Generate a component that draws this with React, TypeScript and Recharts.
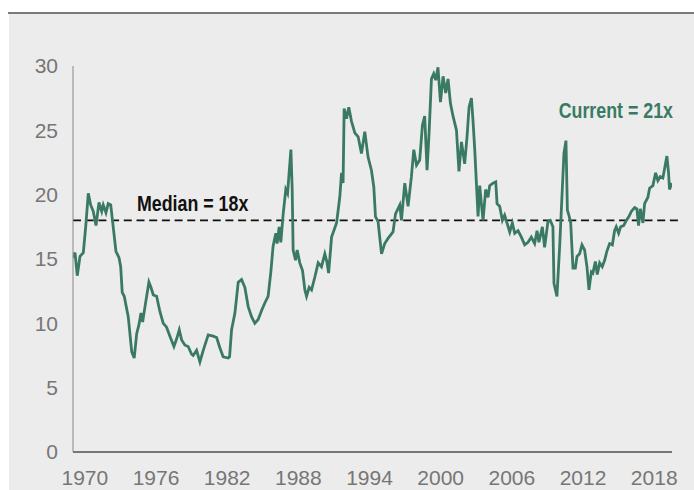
import React from 'react';
import {
  LineChart,
  Line,
  XAxis,
  YAxis,
  ReferenceLine,
  ReferenceDot
} from 'recharts';

const years = [
  1969.0, 1969.17, 1969.36, 1969.59, 1969.87, 1970.07, 1970.29, 1970.49, 1970.71, 1970.94,
  1971.19, 1971.42, 1971.55, 1971.78, 1971.97, 1972.18, 1972.34, 1972.62, 1972.88, 1973.02,
  1973.15, 1973.32, 1973.66, 1973.95, 1974.16, 1974.37, 1974.56, 1974.73, 1974.87, 1975.07,
  1975.4, 1975.57, 1975.77, 1976.05, 1976.33, 1976.61, 1976.89, 1977.17, 1977.51, 1977.74,
  1977.96, 1978.16, 1978.44, 1978.71, 1979.0, 1979.13, 1979.42, 1979.7, 1979.98, 1980.4,
  1980.82, 1981.11, 1981.38, 1981.66, 1982.08, 1982.2, 1982.37, 1982.65, 1982.93, 1983.21,
  1983.49, 1983.77, 1984.06, 1984.33, 1984.61, 1984.9, 1985.18, 1985.45, 1985.68, 1985.87,
  1986.1, 1986.21, 1986.38, 1986.52, 1986.72, 1986.94, 1987.09, 1987.22, 1987.37, 1987.48,
  1987.56, 1987.76, 1987.9, 1988.12, 1988.35, 1988.55, 1988.69, 1988.91, 1989.11, 1989.39,
  1989.67, 1989.95, 1990.23, 1990.4, 1990.55, 1990.8, 1991.22, 1991.49, 1991.64, 1991.77,
  1991.86, 1992.06, 1992.25, 1992.48, 1992.76, 1993.04, 1993.32, 1993.6, 1993.88, 1994.16,
  1994.36, 1994.5, 1994.72, 1995.01, 1995.28, 1995.56, 1995.98, 1996.19, 1996.55, 1996.69,
  1996.97, 1997.25, 1997.53, 1997.73, 1997.96, 1998.23, 1998.46, 1998.65, 1998.85, 1999.02,
  1999.22, 1999.41, 1999.58, 1999.77, 1999.98, 2000.2, 2000.42, 2000.62, 2000.82, 2001.04,
  2001.33, 2001.54, 2001.75, 2002.02, 2002.22, 2002.39, 2002.59, 2002.72, 2002.87, 2003.01,
  2003.15, 2003.29, 2003.43, 2003.57, 2003.79, 2003.99, 2004.13, 2004.41, 2004.64, 2004.75,
  2004.97, 2005.2, 2005.39, 2005.59, 2005.82, 2006.04, 2006.24, 2006.52, 2006.8, 2007.08,
  2007.36, 2007.64, 2007.92, 2008.12, 2008.28, 2008.57, 2008.76, 2009.04, 2009.24, 2009.46,
  2009.55, 2009.8, 2010.03, 2010.26, 2010.39, 2010.56, 2010.68, 2010.81, 2010.96, 2011.15,
  2011.35, 2011.49, 2011.71, 2011.91, 2012.13, 2012.33, 2012.5, 2012.7, 2012.83, 2013.04,
  2013.2, 2013.4, 2013.62, 2013.82, 2014.01, 2014.24, 2014.47, 2014.66, 2014.8, 2015.0,
  2015.17, 2015.42, 2015.65, 2015.87, 2016.07, 2016.35, 2016.54, 2016.68, 2016.83, 2017.05,
  2017.19, 2017.47, 2017.61, 2017.89, 2018.12, 2018.31, 2018.51, 2018.73, 2018.87, 2019.07,
  2019.21, 2019.29, 2019.49
];

// forward P/E
const pe = [
  15.1, 15.5, 13.7, 15.2, 15.5, 17.5, 20.1, 19.2, 18.7, 17.6,
  19.4, 18.7, 19.2, 18.6, 19.3, 19.2, 17.9, 15.6, 15.1, 14.4,
  12.4, 12.1, 10.5, 7.8, 7.3, 9.2, 9.9, 10.8, 10.1, 11.3,
  13.2, 12.8, 12.2, 12.1, 10.9, 10.0, 9.7, 9.0, 8.2, 8.8,
  9.5, 8.7, 8.3, 8.2, 7.6, 7.5, 7.9, 7.0, 7.9, 9.1,
  9.0, 8.9, 8.1, 7.4, 7.3, 7.4, 9.5, 10.8, 13.2, 13.4,
  12.8, 11.3, 10.5, 10.0, 10.3, 11.0, 11.6, 12.1, 14.0, 16.0,
  17.0, 16.2, 17.5, 16.3, 18.5, 20.4, 20.1, 21.7, 23.5, 20.4,
  15.7, 14.9, 15.7, 14.7, 14.1, 12.6, 12.1, 12.8, 12.6, 13.6,
  14.7, 14.4, 15.4, 14.8, 13.9, 16.7, 17.8, 19.8, 21.7, 20.9,
  26.7, 25.9, 26.8, 25.7, 24.8, 24.5, 23.2, 24.9, 22.9, 21.9,
  20.6, 18.3, 17.9, 15.4, 16.2, 16.6, 17.1, 18.5, 19.2, 18.0,
  20.9, 19.1, 21.4, 23.5, 22.3, 22.7, 25.4, 26.1, 21.9, 24.8,
  29.0, 29.4, 28.9, 29.9, 27.2, 29.2, 27.9, 29.0, 27.1, 26.1,
  25.0, 21.8, 24.1, 22.4, 24.5, 26.8, 27.5, 25.8, 23.5, 20.9,
  18.3, 20.7, 19.3, 18.0, 20.4, 19.8, 20.7, 20.9, 21.0, 19.3,
  19.1, 18.0, 18.4, 17.8, 17.1, 17.8, 17.0, 17.2, 16.7, 16.1,
  16.3, 16.7, 16.2, 17.2, 16.3, 17.5, 15.9, 17.9, 18.0, 17.5,
  13.1, 12.1, 16.0, 20.6, 23.2, 24.2, 18.8, 18.4, 17.8, 14.3,
  14.3, 15.2, 15.4, 16.1, 15.7, 14.4, 12.6, 14.0, 13.9, 14.8,
  13.8, 14.7, 14.4, 14.9, 15.6, 16.2, 16.1, 17.2, 17.5, 17.0,
  17.5, 17.6, 18.0, 18.3, 18.7, 19.0, 18.9, 17.6, 18.9, 17.8,
  19.3, 19.8, 20.5, 20.7, 21.7, 21.1, 21.4, 21.3, 22.0, 23.0,
  21.7, 20.4, 20.9
];

const xTicks = [1970, 1976, 1982, 1988, 1994, 2000, 2006, 2012, 2018];
const yTicks = [0, 5, 10, 15, 20, 25, 30];
const median = 18;
const current = 21;

const data = years.map((year, i) => ({ year, pe: pe[i] }));

const GREEN = '#3b7a62';
const labelFont = '"Liberation Sans", Arial, sans-serif';
const tickStyle = { fill: '#767676', fontSize: 21, fontFamily: '"Liberation Sans", Arial, sans-serif' };
// squeeze bold text to look like a condensed face
const NARROW = 0.81;

const MedianLabel = (props: any) => {
  const { viewBox } = props;
  return (
    <text
      transform={`translate(${viewBox.x + 64},${viewBox.y - 9}) scale(${NARROW},1)`}
      fill="#111"
      fontSize={22}
      fontWeight="bold"
      fontFamily={labelFont}
    >
      {`Median = ${median}x`}
    </text>
  );
};

const CurrentLabel = (props: any) => {
  const { viewBox } = props;
  const right = viewBox.x + viewBox.width / 2 + 1;
  return (
    <text
      transform={`translate(${right},${viewBox.y + viewBox.height / 2 - 64}) scale(${NARROW},1)`}
      textAnchor="end"
      fill={GREEN}
      fontSize={22}
      fontWeight="bold"
      fontFamily={labelFont}
    >
      {`Current = ${current}x`}
    </text>
  );
};

export default function App() {
  return (
    <div style={{ position: 'absolute', left: 0, top: 0, width: 694, height: 490, background: '#fff', overflow: 'hidden' }}>
      <div style={{ position: 'absolute', left: 8, top: 12, right: 0, height: 2, background: '#7a7a7a' }} />
      <div style={{ position: 'absolute', left: 9, top: 14, right: 0, bottom: 0, background: '#ececec' }} />
      <div style={{ position: 'absolute', left: 0, top: 0 }}>
        <LineChart width={694} height={490} data={data} margin={{ top: 66, right: 22, left: 0, bottom: 0 }}>
          <XAxis
            dataKey="year"
            type="number"
            domain={[1969, 2019.5]}
            ticks={xTicks}
            allowDataOverflow
            height={38}
            tickLine={false}
            tickSize={0}
            tickMargin={18}
            axisLine={{ stroke: '#777', strokeWidth: 2 }}
            tick={tickStyle}
          />
          <YAxis
            domain={[0, 30]}
            ticks={yTicks}
            width={73}
            tickLine={false}
            tickSize={0}
            tickMargin={15}
            axisLine={{ stroke: '#888', strokeWidth: 1 }}
            tick={tickStyle}
          />
          <ReferenceLine
            segment={[{ x: 1969, y: median }, { x: 2020, y: median }]}
            ifOverflow="visible"
            stroke="#111"
            strokeWidth={1.6}
            strokeDasharray="8 4.7"
            label={<MedianLabel />}
          />
          <Line
            type="linear"
            dataKey="pe"
            stroke={GREEN}
            strokeWidth={2.8}
            dot={false}
            isAnimationActive={false}
          />
          <ReferenceDot
            x={2019.5}
            y={current}
            r={0}
            fill="none"
            stroke="none"
            ifOverflow="visible"
            label={<CurrentLabel />}
          />
        </LineChart>
      </div>
    </div>
  );
}
